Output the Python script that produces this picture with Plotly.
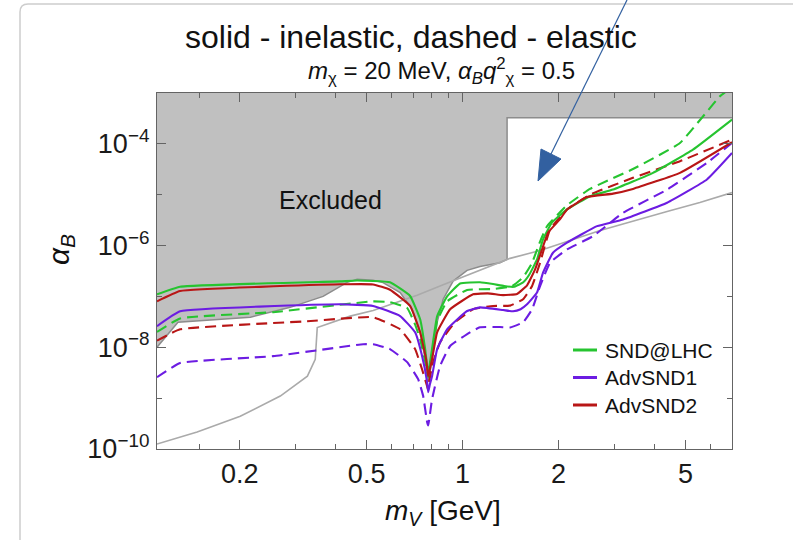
import math
import plotly.graph_objects as go

# ---------------- data (m_V in GeV, alpha_B) ----------------
excl_x = [0.10, 0.110, 0.128, 0.216, 0.288, 0.365, 0.4345, 0.467, 0.524, 0.563, 0.637, 0.6946,
          0.7359, 0.763, 0.774, 0.779, 0.791, 0.808, 0.832, 0.869, 0.934, 1.033, 1.134, 1.31,
          1.379, 1.379, 8.0, 8.0, 0.10]
excl_y = [1.0e-8, 1.0e-8, 3.1e-8, 3.9e-8, 6.1e-8, 1.0e-7, 1.89e-7, 2.17e-7, 2.07e-7, 1.87e-7,
          1.19e-7, 5.58e-8, 1.97e-8, 5.8e-9, 2.7e-9, 2.2e-9, 3.24e-9, 9.2e-9, 3.1e-8, 8.8e-8,
          2.0e-7, 3.25e-7, 3.87e-7, 4.6e-7, 5.35e-7, 3.27e-4, 3.27e-4, 1e-2, 1e-2]

gray_x = [0.110, 0.147, 0.2007, 0.268, 0.326, 0.345, 0.350, 0.444, 0.524, 0.637, 0.72, 0.869,
          1.134, 1.409, 1.75, 2.70, 4.38, 5.55, 7.0]
gray_y = [1.25e-10, 2.15e-10, 4.4e-10, 1.1e-9, 2.7e-9, 5.8e-9, 2.44e-8, 4.1e-8, 5.3e-8, 8.0e-8,
          1.05e-7, 1.7e-7, 3.25e-7, 5.6e-7, 8.0e-7, 1.98e-6, 4.68e-6, 7.0e-6, 1.1e-5]

# SND@LHC
gs_x = [0.110, 0.130, 0.413, 0.467, 0.592, 0.6845, 0.7359, 0.763, 0.774, 0.780, 0.788, 0.802,
        0.832, 0.894, 0.982, 1.134, 1.246, 1.35, 1.45, 1.55, 1.62, 1.712, 1.788, 1.908, 2.126,
        2.51, 2.964, 3.956, 5.28, 7.0]
gs_y = [1.1e-7, 1.55e-7, 1.98e-7, 2.05e-7, 1.89e-7, 1.02e-7, 3.55e-8, 9.2e-9, 4.25e-9, 3.2e-9,
        4.5e-9, 9.2e-9, 4.07e-8, 1.0e-7, 1.8e-7, 1.9e-7, 1.75e-7, 1.6e-7, 1.55e-7, 1.9e-7,
        2.7e-7, 5.35e-7, 1.32e-6, 2.85e-6, 5.13e-6, 9.35e-6, 1.26e-5, 2.69e-5, 7.7e-5, 3.0e-4]
gd_x = [0.110, 0.130, 0.2547, 0.524, 0.592, 0.67, 0.7098, 0.7359, 0.763, 0.780, 0.788, 0.802,
        0.832, 0.894, 1.033, 1.246, 1.43, 1.55, 1.65, 1.75, 1.84, 2.126, 2.51, 3.423, 4.806,
        6.415, 7.0]
gd_y = [2.0e-8, 3.7e-8, 4.9e-8, 8.0e-8, 7.7e-8, 5.9e-8, 2.8e-8, 1.44e-8, 5.3e-9, 2.6e-9,
        3.5e-9, 7.5e-9, 3.25e-8, 8.0e-8, 1.34e-7, 1.4e-7, 1.6e-7, 2.4e-7, 4.5e-7, 1.2e-6,
        2.4e-6, 6.2e-6, 1.3e-5, 3.2e-5, 1.04e-4, 8.6e-4, 1.3e-3]

# AdvSND1
ps_x = [0.110, 0.130, 0.413, 0.524, 0.637, 0.7098, 0.746, 0.774, 0.780, 0.790, 0.802, 0.832,
        0.894, 1.033, 1.134, 1.34, 1.44, 1.52, 1.593, 1.712, 1.788, 1.921, 2.126, 2.641, 3.186,
        4.38, 5.84, 7.0]
ps_y = [2.6e-8, 5.1e-8, 7.0e-8, 6.5e-8, 4.12e-8, 1.97e-8, 6.8e-9, 2.06e-9, 1.31e-9, 1.9e-9,
        2.7e-9, 9.2e-9, 2.26e-8, 5.17e-8, 6.1e-8, 5.4e-8, 5.1e-8, 5.6e-8, 7.0e-8, 1.19e-7,
        2.93e-7, 7.24e-7, 1.14e-6, 2.41e-6, 3.26e-6, 6.94e-6, 1.99e-5, 6.6e-5]
pd_x = [0.110, 0.130, 0.2547, 0.4877, 0.524, 0.592, 0.67, 0.7254, 0.752, 0.774, 0.780, 0.802,
        0.85, 0.914, 1.055, 1.134, 1.31, 1.409, 1.548, 1.652, 1.75, 1.881, 2.126, 2.566, 3.186,
        4.38, 5.84, 7.0]
pd_y = [2.58e-9, 4.9e-9, 6.7e-9, 1.15e-8, 1.15e-8, 9.2e-9, 5.1e-9, 2.36e-9, 1.11e-9, 3.4e-10,
        2.9e-10, 9.5e-10, 4.3e-9, 1.06e-8, 1.97e-8, 2.47e-8, 2.5e-8, 2.45e-8, 3.1e-8, 5.58e-8,
        1.6e-7, 4.6e-7, 8.4e-7, 1.53e-6, 4.41e-6, 1.26e-5, 4.23e-5, 1.04e-4]

# AdvSND2
rs_x = [0.110, 0.130, 0.413, 0.524, 0.592, 0.6845, 0.7359, 0.7685, 0.780, 0.788, 0.802, 0.832,
        0.914, 1.079, 1.2, 1.34, 1.482, 1.593, 1.688, 1.775, 1.854, 2.022, 2.126, 2.457, 2.964,
        3.423, 4.806, 7.0]
rs_y = [8.0e-8, 1.28e-7, 1.73e-7, 1.72e-7, 1.35e-7, 6.5e-8, 1.97e-8, 5.8e-9, 2.7e-9, 3.5e-9,
        5.8e-9, 1.97e-8, 5.6e-8, 1.1e-7, 1.15e-7, 1.06e-7, 1.12e-7, 1.65e-7, 3.4e-7, 8.4e-7,
        1.8e-6, 3.3e-6, 5.13e-6, 9.0e-6, 1.05e-5, 1.3e-5, 2.69e-5, 1.08e-4]
rd_x = [0.110, 0.130, 0.3256, 0.524, 0.637, 0.7098, 0.746, 0.774, 0.778, 0.786, 0.8084, 0.85,
        0.947, 1.079, 1.246, 1.409, 1.548, 1.652, 1.75, 1.881, 2.126, 2.51, 3.423, 4.806, 7.0]
rd_y = [1.35e-8, 2.26e-8, 3.25e-8, 3.9e-8, 2.26e-8, 9.2e-9, 3.7e-9, 1.72e-9, 1.5e-9, 2.2e-9,
        5.1e-9, 1.26e-8, 3.1e-8, 5.6e-8, 6.5e-8, 6.6e-8, 8.8e-8, 1.6e-7, 4.6e-7, 2.08e-6,
        5.13e-6, 1.0e-5, 2.15e-5, 4.55e-5, 1.21e-4]

legend_names = ["SND@LHC", "AdvSND1", "AdvSND2"]

x_major = [0.2, 0.5, 1, 2, 5]
x_major_text = ["0.2", "0.5", "1", "2", "5"]
x_minor = [0.15, 0.3, 0.4, 0.6, 0.7, 0.8, 0.9, 3, 4, 6, 7]
y_major = [1e-10, 1e-8, 1e-6, 1e-4]
y_major_text = ["10<sup>\u221210</sup>", "10<sup>\u22128</sup>", "10<sup>\u22126</sup>", "10<sup>\u22124</sup>"]
y_minor = [1e-9, 1e-7, 1e-5, 1e-3]

GREEN = "rgb(38,196,48)"
PURPLE = "rgb(108,28,226)"
RED = "rgb(184,22,22)"
FONT = "Liberation Sans, Arial, sans-serif"

# ---------------- figure ----------------
W, H = 793, 540
ML, MR, MT, MB = 157, 61, 93, 91
PW, PH = W - ML - MR, H - MT - MB


def P(px, py):
    return (px - ML) / PW, (H - MB - py) / PH


fig = go.Figure()
fig.add_trace(go.Scatter(x=excl_x, y=excl_y, mode="lines", fill="toself",
                         fillcolor="rgb(192,192,192)", line=dict(color="rgb(140,140,140)", width=1.5),
                         showlegend=False, hoverinfo="skip"))
fig.add_trace(go.Scatter(x=gray_x, y=gray_y, mode="lines",
                         line=dict(color="rgb(170,170,170)", width=1.6),
                         showlegend=False, hoverinfo="skip"))

DASH = "11px,6px"
SM = 0.35
for (xs, ys, col, name) in [
    (gd_x, gd_y, GREEN, legend_names[0]),
    (rd_x, rd_y, RED, legend_names[2]),
    (pd_x, pd_y, PURPLE, legend_names[1]),
]:
    fig.add_trace(go.Scatter(x=xs, y=ys, mode="lines", name=name + " (elastic)", showlegend=False,
                             line=dict(color=col, width=2.1, dash=DASH, shape="spline", smoothing=SM)))
for (xs, ys, col, name) in [
    (gs_x, gs_y, GREEN, legend_names[0]),
    (ps_x, ps_y, PURPLE, legend_names[1]),
    (rs_x, rs_y, RED, legend_names[2]),
]:
    fig.add_trace(go.Scatter(x=xs, y=ys, mode="lines", name=name, showlegend=False,
                             line=dict(color=col, width=2.1, shape="spline", smoothing=SM)))

axis_common = dict(type="log", showgrid=False, zeroline=False, showline=True,
                   linecolor="rgb(100,100,100)", linewidth=1.3, mirror="ticks",
                   ticks="inside", ticklen=9, tickwidth=1, tickcolor="rgb(100,100,100)",
                   tickfont=dict(size=27, family=FONT, color="#1a1a1a"))
fig.update_xaxes(**axis_common, range=[math.log10(0.11), math.log10(7.0)],
                 tickmode="array", tickvals=x_major, ticktext=x_major_text,
                 ticklabelstandoff=0,
                 minor=dict(tickmode="array", tickvals=x_minor, ticks="inside", ticklen=5,
                            tickcolor="rgb(100,100,100)"))
fig.update_yaxes(**axis_common, range=[-10, -3],
                 tickmode="array", tickvals=y_major, ticktext=y_major_text,
                 ticklabelstandoff=1,
                 minor=dict(tickmode="array", tickvals=y_minor, ticks="inside", ticklen=5,
                            tickcolor="rgb(100,100,100)"))

annotations = []
tx, ty = P(411, 37)
annotations.append(dict(text="solid - inelastic, dashed - elastic", x=tx, y=ty, xref="paper",
                        yref="paper", showarrow=False, xanchor="center", yanchor="middle",
                        font=dict(size=32, family=FONT, color="#111")))
sx, sy = P(441, 71)
annotations.append(dict(text="<i>m</i><sub>\u03c7</sub> = 20 MeV, <i>\u03b1<sub>B</sub>q</i><sup>2</sup><sub>\u03c7</sub> = 0.5",
                        x=sx, y=sy, xref="paper", yref="paper", showarrow=False,
                        xanchor="center", yanchor="middle", font=dict(size=24, family=FONT, color="#111")))
xx, xy = P(443, 512)
annotations.append(dict(text="<i>m<sub>V</sub></i> [GeV]", x=xx, y=xy, xref="paper", yref="paper",
                        showarrow=False, xanchor="center", yanchor="middle",
                        font=dict(size=28, family=FONT, color="#111")))
yx, yy = P(60, 250)
annotations.append(dict(text="<i>\u03b1<sub>B</sub></i>", x=yx, y=yy, xref="paper", yref="paper",
                        showarrow=False, xanchor="center", yanchor="middle", textangle=-90,
                        font=dict(size=30, family=FONT, color="#111")))
annotations.append(dict(text="Excluded", x=math.log10(0.384), y=math.log10(7.7e-6), xref="x",
                        yref="y", showarrow=False, xanchor="center", yanchor="middle",
                        font=dict(size=25, family=FONT, color="#111")))

shapes = []
# legend (drawn as key lines + labels)
for i, (name, col) in enumerate(zip(legend_names, [GREEN, PURPLE, RED])):
    rowy = 350 + 27.5 * i
    a = P(573, rowy)
    b = P(597, rowy)
    shapes.append(dict(type="line", xref="paper", yref="paper", x0=a[0], y0=a[1], x1=b[0], y1=b[1],
                       line=dict(color=col, width=3)))
    t = P(603, rowy)
    annotations.append(dict(text=name, x=t[0], y=t[1], xref="paper", yref="paper", showarrow=False,
                            xanchor="left", yanchor="middle",
                            font=dict(size=21, family=FONT, color="#111")))

# slide frame
fx0, fy0 = P(20, 540)
fx1, fy1 = P(20, 12)
fx2, fy2 = P(28, 4)
fx3, fy3 = P(793, 4)
shapes.append(dict(type="path", xref="paper", yref="paper",
                   path=f"M {fx0},{fy0} L {fx1},{fy1} Q {fx1},{fy2} {fx2},{fy2} L {fx3},{fy3}",
                   line=dict(color="rgb(205,205,205)", width=1.5)))
# arrow
ax0, ay0 = P(627, 0)
ax1, ay1 = P(551, 154)
shapes.append(dict(type="line", xref="paper", yref="paper", x0=ax0, y0=ay0, x1=ax1, y1=ay1,
                   line=dict(color="rgb(50,96,160)", width=1.2)))
t0 = P(538, 181)
t1 = P(561, 159)
t2 = P(541, 149)
shapes.append(dict(type="path", xref="paper", yref="paper",
                   path=f"M {t0[0]},{t0[1]} L {t1[0]},{t1[1]} L {t2[0]},{t2[1]} Z",
                   fillcolor="rgb(50,96,160)", line=dict(color="rgb(50,96,160)", width=1)))

fig.update_layout(width=W, height=H, margin=dict(l=ML, r=MR, t=MT, b=MB),
                  paper_bgcolor="white", plot_bgcolor="white", showlegend=False,
                  annotations=annotations, shapes=shapes)

fig.write_html("out.html")
